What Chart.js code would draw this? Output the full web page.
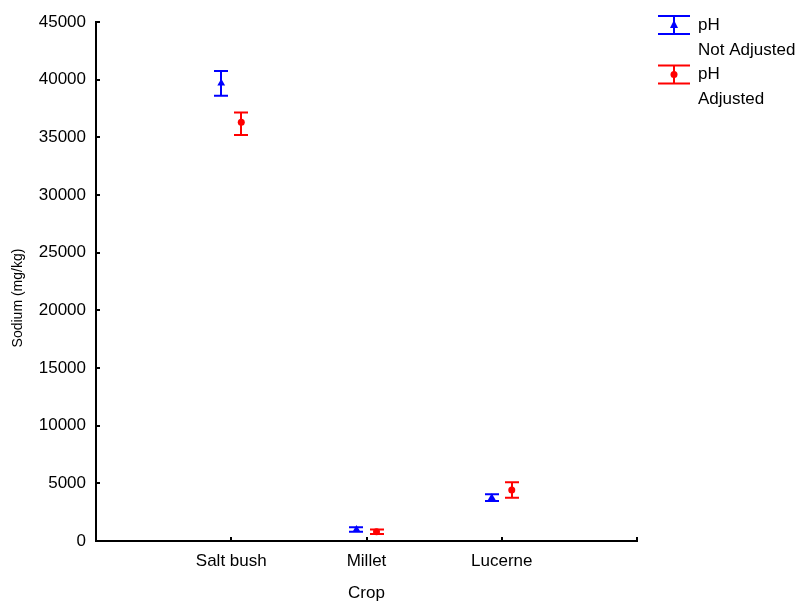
<!DOCTYPE html>
<html>
<head>
<meta charset="utf-8">
<script src="https://cdn.jsdelivr.net/npm/chart.js@4"></script>
<style>
  html, body { margin: 0; padding: 0; background: #fff; }
  #wrap { width: 810px; height: 604px; }
</style>
</head>
<body>
<div id="wrap"><canvas id="mygraph" width="810" height="604"></canvas></div>
<script>
// data
const crops = ['Salt bush', 'Millet', 'Lucerne']
const notAdjMean = [39700, 1000, 3750]
const notAdjLow = [38600, 800, 3470]
const notAdjHigh = [40750, 1200, 4050]
const adjMean = [36300, 800, 4420]
const adjLow = [35200, 600, 3750]
const adjHigh = [37150, 1000, 5090]
const seriesNames = [['pH', 'Not Adjusted'], ['pH', 'Adjusted']]
const yTitle = 'Sodium (mg/kg)'
const shift = 0.074

const FONT = '"Liberation Sans", Arial, sans-serif'

let pts = (means, off) => means.map((v, i) => ({ x: i + 1 + off, y: v }))

// error bars, inside tick marks, y title and legend
let extras = {
  id: 'extras',
  afterDatasetsDraw(chart) {
    const ctx = chart.ctx
    const xs = chart.scales.x, ys = chart.scales.y
    ctx.save()
    chart.data.datasets.forEach(ds => {
      ctx.strokeStyle = ds.borderColor
      ctx.lineWidth = 2
      ds.data.forEach((p, i) => {
        const px = Math.round(xs.getPixelForValue(p.x))
        const top = ys.getPixelForValue(ds.high[i])
        const bot = ys.getPixelForValue(ds.low[i])
        ctx.beginPath()
        ctx.moveTo(px, top); ctx.lineTo(px, bot)
        ctx.moveTo(px - 7, top); ctx.lineTo(px + 7, top)
        ctx.moveTo(px - 7, bot); ctx.lineTo(px + 7, bot)
        ctx.stroke()
      })
    })
    // inside ticks
    const area = chart.chartArea
    ctx.strokeStyle = '#000'
    ctx.lineWidth = 2
    ctx.beginPath()
    for (let v = 0; v <= 4; v++) {
      const px = Math.round(xs.getPixelForValue(v))
      ctx.moveTo(px, area.bottom); ctx.lineTo(px, area.bottom - 4)
    }
    for (let v = 0; v <= 45000; v += 5000) {
      const py = Math.round(ys.getPixelForValue(v))
      ctx.moveTo(area.left, py); ctx.lineTo(area.left + 4, py)
    }
    ctx.stroke()

    // y title, sits a bit below the middle of the axis
    ctx.save()
    ctx.translate(18, 298)
    ctx.rotate(-Math.PI / 2)
    ctx.font = '14px ' + FONT
    ctx.fillStyle = '#000'
    ctx.textAlign = 'center'
    ctx.textBaseline = 'middle'
    ctx.fillText(yTitle, 0, 0)
    ctx.restore()

    // legend
    ctx.font = '17px ' + FONT
    ctx.textBaseline = 'middle'
    chart.data.datasets.forEach((ds, k) => {
      const cy = 25 + k * 49.5
      ctx.strokeStyle = ds.borderColor
      ctx.fillStyle = ds.borderColor
      ctx.lineWidth = 2
      ctx.beginPath()
      ctx.moveTo(658, cy - 9); ctx.lineTo(690, cy - 9)
      ctx.moveTo(658, cy + 9); ctx.lineTo(690, cy + 9)
      ctx.moveTo(674, cy - 9); ctx.lineTo(674, cy + 9)
      ctx.stroke()
      ctx.beginPath()
      if (ds.pointStyle === 'triangle') {
        ctx.moveTo(674, cy - 5); ctx.lineTo(678, cy + 3); ctx.lineTo(670, cy + 3)
        ctx.closePath()
      } else {
        ctx.arc(674, cy, 3.5, 0, Math.PI * 2)
      }
      ctx.fill()
      ctx.fillStyle = '#000'
      ctx.fillText(seriesNames[k][0], 698, cy)
      ctx.fillText(seriesNames[k][1], 698, cy + 25)
    })
    ctx.restore()
  }
}

const ctx = document.getElementById('mygraph').getContext('2d')
new Chart(ctx, {
  type: 'scatter',
  data: {
    datasets: [{
      label: 'pH Not Adjusted',
      data: pts(notAdjMean, -shift),
      low: notAdjLow,
      high: notAdjHigh,
      borderColor: '#0000ff',
      backgroundColor: '#0000ff',
      pointStyle: 'triangle',
      pointRadius: 4.5,
      borderWidth: 0
    }, {
      label: 'pH Adjusted',
      data: pts(adjMean, shift),
      low: adjLow,
      high: adjHigh,
      borderColor: '#ff0000',
      backgroundColor: '#ff0000',
      pointStyle: 'circle',
      pointRadius: 3.5,
      borderWidth: 0
    }]
  },
  plugins: [extras],
  options: {
    responsive: false,
    animation: false,
    layout: { padding: { left: 0, right: 173, top: 22, bottom: 0 } },
    plugins: {
      legend: { display: false },
      tooltip: { enabled: false }
    },
    scales: {
      x: {
        type: 'linear',
        min: 0,
        max: 4,
        afterBuildTicks: s => { s.ticks = [1, 2, 3].map(v => ({ value: v })) },
        afterFit: s => { s.height = 63 },
        grid: { display: false, drawTicks: false },
        border: { color: '#000', width: 2 },
        ticks: {
          padding: 10,
          color: '#000',
          font: { family: FONT, size: 17 },
          callback: v => crops[v - 1]
        },
        title: {
          display: true,
          text: 'Crop',
          color: '#000',
          font: { family: FONT, size: 17 },
          padding: { top: 13, bottom: 0 }
        }
      },
      y: {
        min: 0,
        max: 45000,
        afterFit: s => { s.width = 96 },
        grid: { display: false, drawTicks: false },
        border: { color: '#000', width: 2 },
        ticks: {
          stepSize: 5000,
          padding: 10,
          color: '#000',
          font: { family: FONT, size: 17 },
          callback: v => String(v)
        }
      }
    }
  }
})
</script>
</body>
</html>
